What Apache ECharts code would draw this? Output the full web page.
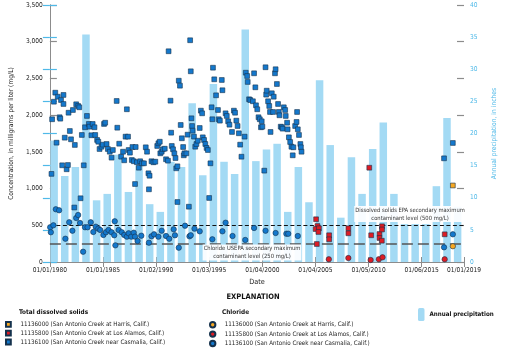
<!DOCTYPE html>
<html><head><meta charset="utf-8">
<script src="https://cdn.jsdelivr.net/npm/echarts@6/dist/echarts.min.js"></script>
<style>html,body{margin:0;padding:0;background:#fff}#c{width:506px;height:353px}</style>
</head><body><div id="c"></div>
<script>
// ---------------- DATA ----------------
const precipYears = [1980,1981,1982,1983,1984,1985,1986,1987,1988,1989,1990,1991,1992,1993,1994,1995,1996,1997,1998,1999,2000,2001,2002,2003,2004,2005,2006,2007,2008,2009,2010,2011,2012,2013,2014,2015,2016,2017,2018];
const precipInches = [18.9,13.4,14.8,35.4,9.6,10.6,16.7,10.9,15.0,9.0,7.8,15.6,14.8,24.7,13.5,27.7,15.6,13.7,36.2,15.7,17.5,18.4,7.8,14.8,9.3,28.3,18.2,6.9,16.3,10.6,17.6,21.7,10.6,5.9,5.9,5.9,11.8,22.4,8.6];

const tdsCasmalia = [
[1980.15,1200],[1980.21,1944],[1980.38,2183],[1980.51,2306],[1980.63,1625],[1980.74,2251],[1980.92,1971],[1980.98,1952],[1981.05,2206],[1981.16,1317],[1981.28,2275],[1981.28,2152],[1981.40,1693],[1981.58,1263],[1981.70,1321],[1981.76,2033],[1981.88,1784],[1981.99,1671],[1982.17,2070],[1982.30,742],[1982.35,1594],[1982.48,2148],[1982.66,2125],[1982.77,2107],[1982.89,868],[1983.01,1730],[1983.19,1317],[1983.31,1835],[1983.49,1989],[1983.67,1880],[1983.73,1843],[1983.91,1726],[1984.03,1880],[1984.20,1835],[1984.27,1730],[1984.45,1662],[1984.56,1638],[1984.68,1539],[1984.86,1570],[1984.98,1598],[1985.10,1880],[1985.21,1897],[1985.34,1607],[1985.46,1539],[1985.64,1502],[1985.81,1421],[1985.93,1525],[1986.29,2193],[1986.35,1829],[1986.53,1611],[1986.71,1434],[1986.89,1502],[1987.00,1385],[1987.13,1707],[1987.25,2080],[1987.36,1707],[1987.42,1525],[1987.54,1489],[1987.72,1389],[1987.78,1566],[1987.90,1372],[1988.02,1062],[1988.08,1566],[1988.20,1358],[1988.38,1284],[1988.50,1372],[1988.68,1344],[1988.86,1344],[1989.03,1562],[1989.15,1502],[1989.28,1208],[1989.39,1175],[1989.33,990],[1989.57,1372],[1989.75,1358],
[1989.93,1366],[1990.11,1580],[1990.22,1617],[1990.35,1638],[1990.40,1480],[1990.53,1502],[1990.64,1535],[1990.82,1543],[1990.94,1399],[1991.12,1380],[1991.18,2870],[1991.36,2197],[1991.42,1761],[1991.48,1580],[1991.60,1535],[1991.72,1480],[1991.83,1416],[1991.90,1276],[1992.01,1303],[1992.01,817],[1992.14,2469],[1992.25,2401],[1992.32,1866],[1992.43,1685],[1992.55,1566],[1992.61,1453],[1992.67,1480],[1992.85,1480],[1992.97,1734],[1993.09,753],[1993.21,3020],[1993.27,2597],[1993.33,1957],[1993.39,1852],[1993.44,1788],[1993.57,1707],[1993.69,1570],[1993.80,1607],[1993.93,1652],[1994.11,1825],[1994.22,2061],[1994.34,2025],[1994.40,1698],[1994.52,1662],[1994.64,1607],[1994.76,1553],[1994.88,1525],[1995.00,872],[1995.12,1344],[1995.23,2107],[1995.30,1944],[1995.36,2646],[1995.48,2488],[1995.65,2270],[1995.83,2070],[1995.90,1944],[1996.01,1925],[1996.19,2479],[1996.25,2339],[1996.55,2025],[1996.66,1989],[1996.79,1916],[1996.91,1870],[1997.15,1771],[1997.33,2061],[1997.44,2033],[1997.56,1925],[1997.68,1852],[1997.80,1753],[1997.92,1598],[1998.04,1434],[1998.34,1707],[1998.45,2578],[1998.58,2533],[1998.63,2452],[1998.76,2216],[1998.87,2206],[1999.12,2189],[1999.23,2570],[1999.35,2379],[1999.41,2134],[1999.53,2080],[1999.65,1971],[1999.77,1944],[1999.88,1835],[1999.95,1916],[2000.01,1843],[2000.19,1244],[2000.31,2652],[2000.37,2279],[2000.42,2333],[2000.55,2189],[2000.66,2125],[2000.73,2043],[2000.78,1771],[2000.90,2298],[2001.02,2043],[2001.08,2251],[2001.20,2570],[2001.26,2625],[2001.38,2424],[2001.49,2152],[2001.56,2043],[2001.62,1998],[2001.74,1843],[2001.85,1835],[2001.92,1816],[2002.03,2107],[2002.16,2070],[2002.21,1989],[2002.34,1897],[2002.39,1807],[2002.51,1698],[2002.63,1634],[2002.75,1570],[2002.93,1562],[2002.87,1453],[2003.10,1852],[2003.23,1907],[2003.28,2043],[2003.35,1807],[2003.46,1730],[2003.59,1607],[2003.64,1562],[2003.70,1502],[2017.12,1412],[2017.95,1621]
];
const clCasmalia = [
[1980.03,473],[1980.09,405],[1980.33,500],[1980.56,718],[1980.87,704],[1981.46,317],[1981.82,541],[1982.12,426],[1982.48,599],[1982.66,640],[1982.84,531],[1983.13,140],[1983.31,473],[1983.55,473],[1983.85,541],[1984.09,409],[1984.32,481],[1984.56,454],[1984.74,436],[1985.04,368],[1985.28,405],[1985.52,436],[1985.81,405],[1986.06,364],[1986.11,554],[1986.17,227],[1986.47,436],[1986.77,405],[1987.00,368],[1987.25,345],[1987.42,391],[1987.67,345],[1987.90,399],[1988.02,345],[1988.26,286],[1988.61,358],[1989.33,263],[1989.57,350],[1989.81,377],[1990.22,345],[1990.53,426],[1990.94,354],[1991.24,317],[1991.66,445],[1991.78,364],[1992.14,195],[1992.73,494],[1993.15,350],[1993.27,364],[1993.62,454],[1994.11,418],[1995.30,309],[1996.25,418],[1996.55,535],[1997.20,354],[1998.40,300],[1999.23,463],[2000.31,426],[2001.26,395],[2002.27,385],[2002.45,385],[2003.35,354],[2017.12,200],[2017.95,377]
];
const tdsLosAlamos = [[2005.07,582],[2005.20,490],[2005.02,449],[2005.34,459],[2005.29,409],[2005.14,245],[2006.30,364],[2006.30,309],[2008.11,459],[2008.11,391],[2010.08,1284],[2010.26,364],[2011.04,381],[2011.04,327],[2011.28,486],[2011.28,443],[2011.26,290],[2017.18,377]];
const clLosAlamos = [[2006.27,37],[2008.11,54],[2010.21,27],[2010.98,37],[2011.33,64],[2017.18,37]];
const tdsHarris = [[2017.95,1042]];
const clHarris = [[2017.95,215]];

const tdsLimit = 500, chlorideLimit = 250;
const concTicks = {min:0, max:3500, step:500};
const precipTicks = {min:0, max:40, step:5};
const dateStart = [1980,0,1], dateEnd = [2019,0,1], dateStepDays = 1827;

const stations = {
  harris: '11136000 (San Antonio Creek at Harris, Calif.)',
  alamos: '11135800 (San Antonio Creek at Los Alamos, Calif.)',
  casmalia: '11136100 (San Antonio Creek near Casmalia, Calif.)'
};

// ---------------- FONT ----------------
function hasFont(name){
  const c=document.createElement('canvas').getContext('2d');
  const s='01/01/1980 Concentration abcdefg';
  c.font='20px monospace'; const a=c.measureText(s).width;
  c.font='20px "'+name+'", monospace'; const b=c.measureText(s).width;
  return Math.abs(a-b)>0.5;
}
let FONT, K;
if (hasFont('Liberation Sans Narrow')) { FONT='"Liberation Sans Narrow"'; K=1; }
else if (hasFont('DejaVu Sans Condensed')) { FONT='"DejaVu Sans Condensed"'; K=0.8; }
else { FONT='"Liberation Sans", Arial, sans-serif'; K=0.82; }
const fs = v => Math.round(v*K*10)/10;

// ---------------- HELPERS ----------------
const DAY=864e5, T0=Date.UTC(...dateStart);
const toDays = y => (y-1980)*365.25;
const xyDays = arr => arr.map(p => [toDays(p[0]), p[1]]);
const pad = n => (n<10?'0':'')+n;
function fmtDate(v){ const d=new Date(T0+Math.round(v)*DAY); return pad(d.getUTCMonth()+1)+'/'+pad(d.getUTCDate())+'/'+d.getUTCFullYear(); }
const maxDays = Math.round((Date.UTC(...dateEnd)-T0)/DAY);

const GREY='#8c8c8c', LBLUE='#4fb9e8', BAR='#a3daf4';
const BLUE='#1478cc', RED='#dd1c24', ORANGE='#f7a823', EDGE='#15324d';
const SQUARE='path://M0,0L10,0L10,10L0,10Z';

function sc(name, data, symbol, color, size, extra){
  return Object.assign({
    type:'scatter', name, xAxisIndex:0, yAxisIndex:0, data:xyDays(data),
    symbol, symbolSize:size, z:5,
    itemStyle:{color, borderColor:EDGE, borderWidth:0.6, opacity:1}
  }, extra||{});
}

const chart = echarts.init(document.getElementById('c'), null, {renderer:'canvas'});
const baseText = {fontFamily:FONT, color:'#222'};
const legText = Object.assign({}, baseText,{fontSize:fs(7.8), color:'#222'});

const option = {
  animation:false,
  textStyle:{fontFamily:FONT},
  grid:{left:39, right:31, top:5, bottom:91, containLabel:false},
  xAxis:[
    {type:'value', position:'bottom', min:0, max:maxDays, interval:dateStepDays,
     name:'Date', nameLocation:'middle', nameGap:15, nameTextStyle:Object.assign({}, baseText,{fontSize:fs(9), verticalAlign:'top'}),
     axisLine:{lineStyle:{color:GREY, width:1}}, axisTick:{inside:true, length:5, lineStyle:{color:GREY}},
     axisLabel:Object.assign({}, baseText,{fontSize:fs(8.2), margin:5, formatter:fmtDate, showMinLabel:true, showMaxLabel:true}),
     splitLine:{show:false}},
    {type:'value', position:'top', min:0, max:maxDays, interval:dateStepDays,
     axisLine:{show:true, lineStyle:{color:GREY, width:1}}, axisTick:{inside:true, length:5, lineStyle:{color:GREY}},
     axisLabel:{show:false}, splitLine:{show:false}}
  ],
  yAxis:[
    {type:'value', position:'left', min:concTicks.min, max:concTicks.max, interval:concTicks.step,
     name:'Concentration, in milligrams per liter (mg/L)', nameLocation:'middle', nameGap:30,
     nameTextStyle:Object.assign({}, baseText,{fontSize:fs(8.4)}),
     axisLine:{show:true, lineStyle:{color:GREY}}, axisTick:{show:true, inside:true, length:7, lineStyle:{color:GREY, width:1.2}},
     axisLabel:Object.assign({}, baseText,{fontSize:fs(8.2), margin:7, formatter:v=>v.toLocaleString('en-US')}),
     splitLine:{show:false}},
    {type:'value', position:'right', min:precipTicks.min, max:precipTicks.max, interval:precipTicks.step,
     name:'Annual precipitation, in inches', nameLocation:'middle', nameGap:27, nameRotate:90,
     nameTextStyle:{fontFamily:FONT, fontSize:fs(8.4), color:LBLUE},
     axisLine:{show:true, lineStyle:{color:GREY}}, axisTick:{show:true, inside:true, length:7, lineStyle:{color:LBLUE, width:1.2}},
     axisLabel:{fontFamily:FONT, fontSize:fs(8.2), color:LBLUE, margin:6},
     splitLine:{show:false}},
    {type:'value', position:'right', min:concTicks.min, max:concTicks.max, interval:concTicks.step,
     axisLine:{show:false}, axisTick:{show:true, inside:true, length:7, lineStyle:{color:GREY, width:1.2}},
     axisLabel:{show:false}, splitLine:{show:false}},
    {type:'value', position:'left', min:precipTicks.min, max:precipTicks.max, interval:precipTicks.step,
     axisLine:{show:false}, axisTick:{show:true, inside:true, length:7, lineStyle:{color:LBLUE, width:1.2}},
     axisLabel:{show:false}, splitLine:{show:false}}
  ],
  legend:[
    {data:[{name:'tds|'+stations.harris, icon:SQUARE},{name:'tds|'+stations.alamos, icon:SQUARE},{name:'tds|'+stations.casmalia, icon:SQUARE}],
     orient:'vertical', left:5, top:321, padding:0, itemWidth:14, itemHeight:4.8, itemGap:2.0, symbolKeepAspect:true,
     formatter:n=>n.split('|')[1], textStyle:legText, selectedMode:false},
    {data:['cl|'+stations.harris,'cl|'+stations.alamos,'cl|'+stations.casmalia],
     orient:'vertical', left:209, top:321, padding:0, itemWidth:14, itemHeight:5.4, itemGap:2.0, symbolKeepAspect:true,
     formatter:n=>n.split('|')[1], textStyle:legText, selectedMode:false},
    {data:['Annual precipitation'], left:418, top:308, padding:0, itemWidth:6.5, itemHeight:13,
     textStyle:Object.assign({}, baseText,{fontSize:fs(7.8), fontWeight:'bold', color:'#111'}), selectedMode:false}
  ],
  series:[
    {type:'bar', name:'Annual precipitation', xAxisIndex:0, yAxisIndex:1,
     data: precipYears.map((y,i)=>[toDays(y+0.4), precipInches[i]]),
     barWidth:7.5, itemStyle:{color:BAR}, z:1},
    sc('tds|'+stations.casmalia, tdsCasmalia, 'rect', BLUE, 4.8, {
      markLine:{silent:true, symbol:'none', label:{show:false}, z:4,
        data:[
          {yAxis:tdsLimit, lineStyle:{type:[4,2.5], color:'#111', width:1.1}},
          {yAxis:chlorideLimit, lineStyle:{type:[11,5], color:'#555', width:1.6}}
        ]}
    }),
    sc('cl|'+stations.casmalia, clCasmalia, 'circle', BLUE, 5.4),
    sc('tds|'+stations.alamos, tdsLosAlamos, 'rect', RED, 4.8),
    sc('cl|'+stations.alamos, clLosAlamos, 'circle', RED, 5.4),
    sc('tds|'+stations.harris, tdsHarris, 'rect', ORANGE, 4.8),
    sc('cl|'+stations.harris, clHarris, 'circle', ORANGE, 5.4)
  ],
  graphic:[
    {type:'text', z:10, left:'center', top:293,
     style:{text:'EXPLANATION', fontFamily:FONT, fontSize:fs(9.4), fontWeight:'bold', fill:'#111'}},
    {type:'text', z:10, left:19, top:309,
     style:{text:'Total dissolved solids', fontFamily:FONT, fontSize:fs(8), fontWeight:'bold', fill:'#111'}},
    {type:'text', z:10, left:222, top:309,
     style:{text:'Chloride', fontFamily:FONT, fontSize:fs(8), fontWeight:'bold', fill:'#111'}},
    {type:'text', z:10, x:410, y:206,
     style:{text:'Dissolved solids EPA secondary maximum\ncontaminant level (500 mg/L)', align:'center', verticalAlign:'top',
       fontFamily:FONT, fontSize:fs(7.2), lineHeight:8, fill:'#333', backgroundColor:'rgba(255,255,255,0.92)', padding:[0,1,0,1]}},
    {type:'text', z:10, x:252, y:244.5,
     style:{text:'Chloride USEPA secondary maximum\ncontaminant level (250 mg/L)', align:'center', verticalAlign:'top',
       fontFamily:FONT, fontSize:fs(7.2), lineHeight:8, fill:'#333', backgroundColor:'rgba(255,255,255,0.92)', padding:[0,1,0,1]}}
  ]
};
chart.setOption(option);
</script></body></html>
